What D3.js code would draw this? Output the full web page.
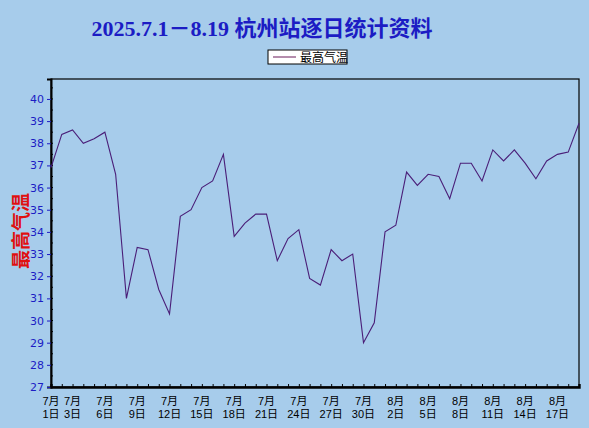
<!DOCTYPE html>
<html>
<head>
<meta charset="utf-8">
<script src="https://cdn.jsdelivr.net/npm/d3@7"></script>
<style>
  html, body { margin: 0; padding: 0; background: #a7cceb; }
  svg { display: block; }
</style>
</head>
<body>
<svg id="chart" width="589" height="428"></svg>
<script>
// daily max temperature, Hangzhou station, 2025-07-01 .. 2025-08-19
const months = [...Array(31).fill(7), ...Array(19).fill(8)];
const days = [...d3.range(1, 32), ...d3.range(1, 20)];
const maxTemp = [
    36.9, 38.4, 38.6, 38.0, 38.2, 38.5, 36.6, 31.0, 33.3, 33.2,
    31.4, 30.3, 34.7, 35.0, 36.0, 36.3, 37.5, 33.8, 34.4, 34.8,
    34.8, 32.7, 33.7, 34.1, 31.9, 31.6, 33.2, 32.7, 33.0, 29.0,
    29.9, 34.0, 34.3, 36.7, 36.1, 36.6, 36.5, 35.5, 37.1, 37.1,
    36.3, 37.7, 37.2, 37.7, 37.1, 36.4, 37.2, 37.5, 37.6, 38.9
];
const labelIdx = [0, 2, 5, 8, 11, 14, 17, 20, 23, 26, 29, 32, 35, 38, 41, 44, 47];
const yTicks = d3.range(27, 41);

const svg = d3.select('#chart');
const plotL = 51, plotR = 579, plotT = 79, plotB = 387;

const x = d3.scaleLinear().domain([0, maxTemp.length - 1]).range([plotL, plotR]);
const y = d3.scaleLinear().domain([27, 40.9]).range([plotB, plotT]);

svg.append('text')
    .attr('x', 262).attr('y', 36)
    .attr('text-anchor', 'middle')
    .attr('fill', '#1c1cc4')
    .attr('font-weight', 'bold')
    .attr('font-size', 22)
    .attr('font-family', '"Liberation Serif", "Noto Sans CJK SC", serif')
    .text('2025.7.1－8.19 杭州站逐日统计资料');

// legend
const lg = svg.append('g').attr('transform', 'translate(268,50)');
lg.append('rect').attr('width', 79).attr('height', 14)
    .attr('fill', '#fff').attr('stroke', '#000');
lg.append('line').attr('x1', 5).attr('x2', 28).attr('y1', 7).attr('y2', 7)
    .attr('stroke', '#6a1a5a');
lg.append('text').attr('x', 32).attr('y', 11.5)
    .attr('font-size', 12).attr('font-family', '"Noto Sans CJK SC", sans-serif')
    .attr('fill', '#000').text('最高气温');

// plot frame
svg.append('rect')
    .attr('x', plotL).attr('y', plotT)
    .attr('width', plotR - plotL).attr('height', plotB - plotT)
    .attr('fill', 'none').attr('stroke', '#000').attr('stroke-width', 1.2);

// y axis
const yAxis = svg.append('g')
    .attr('transform', `translate(${plotL},0)`)
    .call(d3.axisLeft(y).tickValues(yTicks).tickSize(4).tickPadding(3));
yAxis.select('.domain').attr('stroke', '#000').attr('stroke-width', 2);
yAxis.selectAll('.tick line').attr('stroke', '#1c1cc4');
yAxis.selectAll('.tick text')
    .attr('fill', '#1c1cc4').attr('font-size', 11)
    .attr('font-family', '"DejaVu Sans", sans-serif');
svg.append('g')
    .attr('transform', `translate(${plotL},0)`)
    .selectAll('line').data(d3.range(27, 40.9, 0.5)).join('line')
    .attr('x1', 0).attr('x2', 2)
    .attr('y1', d => y(d)).attr('y2', d => y(d))
    .attr('stroke', '#000');

// x axis
const xAxis = svg.append('g')
    .attr('transform', `translate(0,${plotB})`)
    .call(d3.axisBottom(x).tickValues(d3.range(maxTemp.length)).tickSize(-3).tickFormat(''));
xAxis.select('.domain').attr('stroke', '#000').attr('stroke-width', 2.4);
xAxis.selectAll('.tick line').attr('stroke', '#000');
const xl = svg.append('g')
    .selectAll('text').data(labelIdx).join('text')
    .attr('x', i => x(i))
    .attr('text-anchor', 'middle')
    .attr('font-size', 11)
    .attr('font-family', '"Liberation Sans", "Noto Sans CJK SC", sans-serif')
    .attr('fill', '#000');
xl.append('tspan').attr('x', i => x(i)).attr('y', 405).text(i => months[i] + '月');
xl.append('tspan').attr('x', i => x(i)).attr('y', 418).text(i => days[i] + '日');

// y title
svg.append('text')
    .attr('transform', 'translate(28,231) rotate(-90)')
    .attr('text-anchor', 'middle')
    .attr('fill', '#e01010')
    .attr('font-weight', 'bold')
    .attr('font-size', 19)
    .attr('font-family', '"Noto Sans CJK SC", sans-serif')
    .text('最高气温');

// series
svg.append('path')
    .datum(maxTemp)
    .attr('fill', 'none')
    .attr('stroke', '#4a1e78')
    .attr('stroke-width', 1.1)
    .attr('d', d3.line().x((d, i) => x(i)).y(d => y(d)));
</script>
</body>
</html>
